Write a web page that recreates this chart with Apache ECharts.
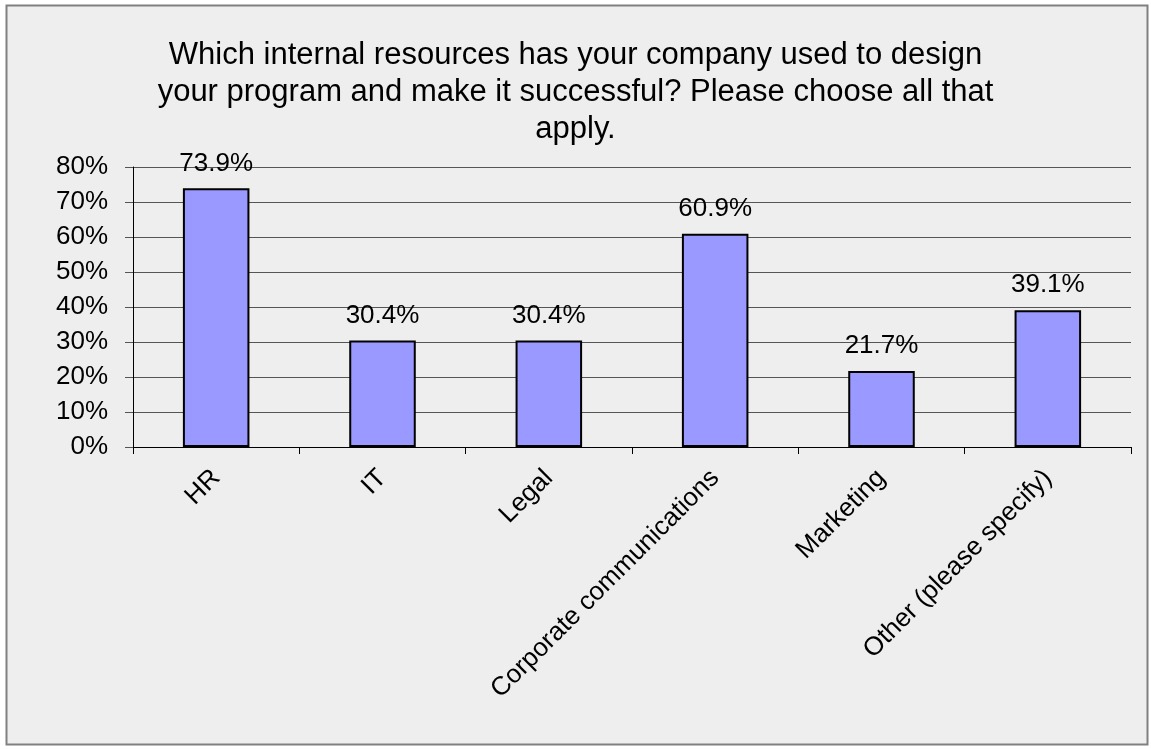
<!DOCTYPE html>
<html>
<head>
<meta charset="utf-8">
<script src="https://cdn.jsdelivr.net/npm/echarts@6/dist/echarts.min.js"></script>
<style>
  html, body { margin: 0; padding: 0; background: #ffffff; }
  #chart { width: 1151px; height: 749px; }
</style>
</head>
<body>
<div id="chart"></div>
<script>
const categories = ["HR", "IT", "Legal", "Corporate communications", "Marketing", "Other (please specify)"];
const values = [73.9, 30.4, 30.4, 60.9, 21.7, 39.1];

const titleText = "Which internal resources has your company used to design\nyour program and make it successful? Please choose all that\napply.";
const fontName = "'Liberation Sans', Arial, sans-serif";

var myChart = echarts.init(document.getElementById("chart"));

var option = {
	backgroundColor: "#ffffff",
	animation: false,
	graphic: [{
		type: "rect",
		z: -10,
		shape: { x: 6.5, y: 5.5, width: 1141, height: 739 },
		style: { fill: "#eeeeee", stroke: "#808080", lineWidth: 2 }
	}],
	title: {
		text: titleText,
		left: "center",
		top: 32,
		textStyle: {
			fontFamily: fontName,
			fontSize: 31,
			fontWeight: "normal",
			color: "#000000",
			lineHeight: 37,
			align: "center"
		}
	},
	grid: { left: 133, right: 20, top: 167, bottom: 302 },
	xAxis: {
		type: "category",
		data: categories,
		axisLine: { lineStyle: { color: "#000000", width: 1 } },
		axisTick: { show: true, length: 7, lineStyle: { color: "#000000" } },
		axisLabel: {
			rotate: 45,
			interval: 0,
			margin: 27,
			fontFamily: fontName,
			fontSize: 26,
			color: "#000000"
		}
	},
	yAxis: {
		type: "value",
		min: 0,
		max: 80,
		interval: 10,
		axisLine: { show: true, lineStyle: { color: "#000000", width: 1 } },
		axisTick: { show: true, length: 8, lineStyle: { color: "#555555" } },
		axisLabel: {
			formatter: "{value}%",
			margin: 25,
			fontFamily: fontName,
			fontSize: 26,
			color: "#000000"
		},
		splitLine: { lineStyle: { color: "#555555", width: 1 } }
	},
	series: [{
		type: "bar",
		data: values,
		barWidth: "40%",
		itemStyle: { color: "#9999ff", borderColor: "#000000", borderWidth: 2 },
		label: {
			show: true,
			position: "top",
			distance: 12,
			formatter: "{c}%",
			fontFamily: fontName,
			fontSize: 26,
			color: "#000000"
		}
	}]
};

myChart.setOption(option);
</script>
</body>
</html>
